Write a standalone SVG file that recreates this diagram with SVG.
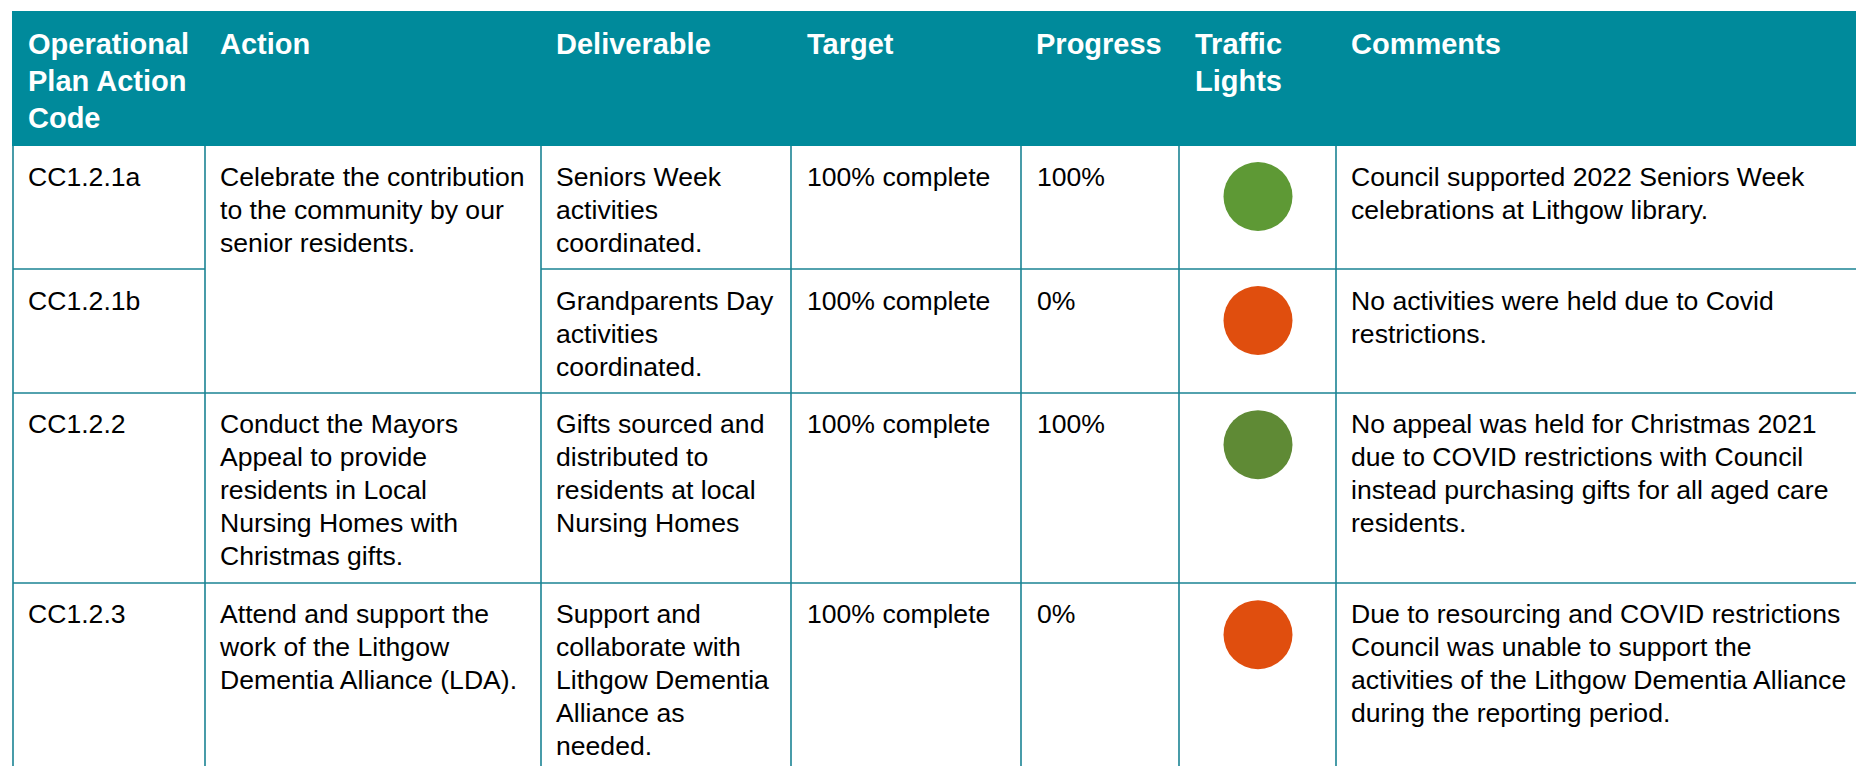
<svg xmlns="http://www.w3.org/2000/svg" width="1856" height="766" viewBox="0 0 1856 766">
<style>
text{font-family:"Liberation Sans",Arial,sans-serif;}
.h{font-size:29px;font-weight:bold;fill:#ffffff;}
.b{font-size:26.6px;fill:#000000;}
.grid line{stroke:#1a8393;stroke-width:1.6;}
.g1{fill:#5e9935;}
.g2{fill:#5f8a35;}
.r{fill:#e04e0e;}
</style>
<rect width="1856" height="766" fill="#ffffff"/>
<g id="header">
<rect x="12" y="11" width="1844" height="135" fill="#008a9b"/>
<text class="h" x="28" y="54.3">Operational<tspan x="28" dy="36.7">Plan Action</tspan><tspan x="28" dy="36.7">Code</tspan></text>
<text class="h" x="220" y="54.3">Action</text>
<text class="h" x="556" y="54.3">Deliverable</text>
<text class="h" x="807" y="54.3">Target</text>
<text class="h" x="1036" y="54.3">Progress</text>
<text class="h" x="1195" y="54.3">Traffic<tspan x="1195" dy="36.7">Lights</tspan></text>
<text class="h" x="1351" y="54.3">Comments</text>
</g>
<g id="grid" class="grid">
<line x1="13" y1="146" x2="13" y2="766"/>
<line x1="205" y1="146" x2="205" y2="766"/>
<line x1="541" y1="146" x2="541" y2="766"/>
<line x1="791" y1="146" x2="791" y2="766"/>
<line x1="1021" y1="146" x2="1021" y2="766"/>
<line x1="1179" y1="146" x2="1179" y2="766"/>
<line x1="1336" y1="146" x2="1336" y2="766"/>
<line x1="13" y1="269" x2="205" y2="269"/>
<line x1="541" y1="269" x2="1856" y2="269"/>
<line x1="13" y1="393" x2="1856" y2="393"/>
<line x1="13" y1="583" x2="1856" y2="583"/>
</g>
<g id="row-cc1-2-1a">
<text class="b" x="28" y="186">CC1.2.1a</text>
<text class="b" x="220" y="186">Celebrate the contribution<tspan x="220" dy="33">to the community by our</tspan><tspan x="220" dy="33">senior residents.</tspan></text>
<text class="b" x="556" y="186">Seniors Week<tspan x="556" dy="33">activities</tspan><tspan x="556" dy="33">coordinated.</tspan></text>
<text class="b" x="807" y="186">100% complete</text>
<text class="b" x="1037" y="186">100%</text>
<circle class="g1" cx="1258" cy="196.5" r="34.5"/>
<text class="b" x="1351" y="186">Council supported 2022 Seniors Week<tspan x="1351" dy="33">celebrations at Lithgow library.</tspan></text>
</g>
<g id="row-cc1-2-1b">
<text class="b" x="28" y="310">CC1.2.1b</text>
<text class="b" x="556" y="310">Grandparents Day<tspan x="556" dy="33">activities</tspan><tspan x="556" dy="33">coordinated.</tspan></text>
<text class="b" x="807" y="310">100% complete</text>
<text class="b" x="1037" y="310">0%</text>
<circle class="r" cx="1258" cy="320.5" r="34.5"/>
<text class="b" x="1351" y="310">No activities were held due to Covid<tspan x="1351" dy="33">restrictions.</tspan></text>
</g>
<g id="row-cc1-2-2">
<text class="b" x="28" y="433">CC1.2.2</text>
<text class="b" x="220" y="433">Conduct the Mayors<tspan x="220" dy="33">Appeal to provide</tspan><tspan x="220" dy="33">residents in Local</tspan><tspan x="220" dy="33">Nursing Homes with</tspan><tspan x="220" dy="33">Christmas gifts.</tspan></text>
<text class="b" x="556" y="433">Gifts sourced and<tspan x="556" dy="33">distributed to</tspan><tspan x="556" dy="33">residents at local</tspan><tspan x="556" dy="33">Nursing Homes</tspan></text>
<text class="b" x="807" y="433">100% complete</text>
<text class="b" x="1037" y="433">100%</text>
<circle class="g2" cx="1258" cy="444.7" r="34.5"/>
<text class="b" x="1351" y="433">No appeal was held for Christmas 2021<tspan x="1351" dy="33">due to COVID restrictions with Council</tspan><tspan x="1351" dy="33">instead purchasing gifts for all aged care</tspan><tspan x="1351" dy="33">residents.</tspan></text>
</g>
<g id="row-cc1-2-3">
<text class="b" x="28" y="623">CC1.2.3</text>
<text class="b" x="220" y="623">Attend and support the<tspan x="220" dy="33">work of the Lithgow</tspan><tspan x="220" dy="33">Dementia Alliance (LDA).</tspan></text>
<text class="b" x="556" y="623">Support and<tspan x="556" dy="33">collaborate with</tspan><tspan x="556" dy="33">Lithgow Dementia</tspan><tspan x="556" dy="33">Alliance as</tspan><tspan x="556" dy="33">needed.</tspan></text>
<text class="b" x="807" y="623">100% complete</text>
<text class="b" x="1037" y="623">0%</text>
<circle class="r" cx="1258" cy="634.7" r="34.5"/>
<text class="b" x="1351" y="623">Due to resourcing and COVID restrictions<tspan x="1351" dy="33">Council was unable to support the</tspan><tspan x="1351" dy="33">activities of the Lithgow Dementia Alliance</tspan><tspan x="1351" dy="33">during the reporting period.</tspan></text>
</g>
</svg>
